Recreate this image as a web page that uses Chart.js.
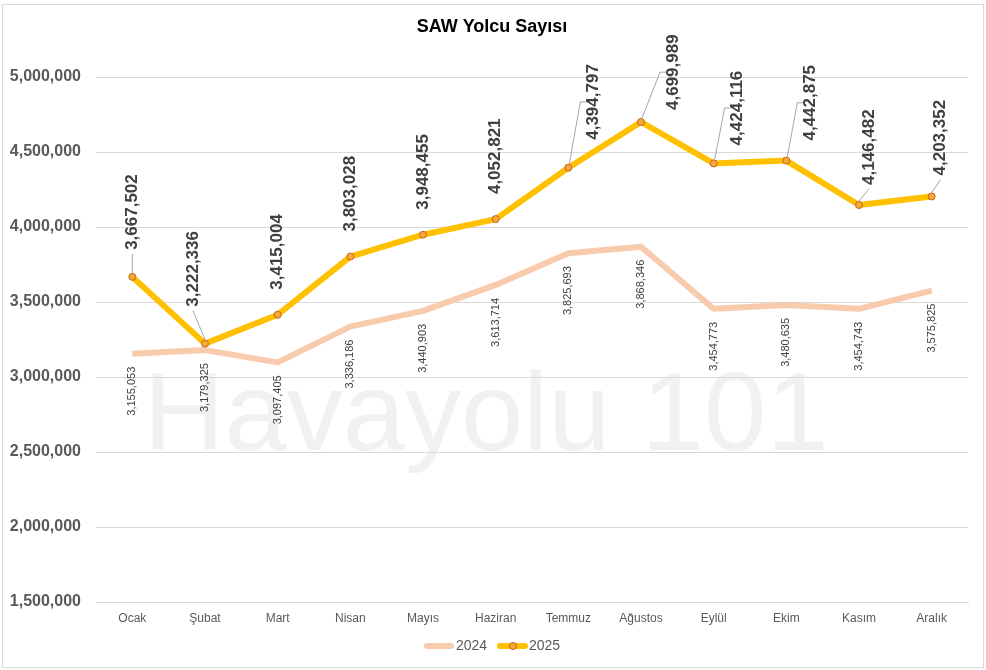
<!DOCTYPE html>
<html>
<head>
<meta charset="utf-8">
<title>SAW Yolcu Sayısı</title>
<script src="https://cdn.jsdelivr.net/npm/chart.js@4.4.1/dist/chart.umd.min.js"></script>
<style>
  html, body { margin: 0; padding: 0; background: #fff; }
  #wrap { width: 986px; height: 670px; }
</style>
</head>
<body>
<div id="wrap"><canvas id="sawChart" width="986" height="670"></canvas></div>
<script>
const FONT = 'Arial, "Liberation Sans", sans-serif';

const months = ['Ocak', 'Şubat', 'Mart', 'Nisan', 'Mayıs', 'Haziran', 'Temmuz', 'Ağustos', 'Eylül', 'Ekim', 'Kasım', 'Aralık'];
const pax2024 = [3155053, 3179325, 3097405, 3336186, 3440903, 3613714, 3825693, 3868346, 3454773, 3480635, 3454743, 3575825];
const pax2025 = [3667502, 3222336, 3415004, 3803028, 3948455, 4052821, 4394797, 4699989, 4424116, 4442875, 4146482, 4203352];
const yMin = 1500000;
const yMax = 5000000;
const yStep = 500000;

// label nudges for the 2025 series (moved by hand in the original)
const shiftX2025 = [0, -12, 0, 0, 0, 0, 25, 32, 24, 24, 10, 9];
const gap2025 = [27, 37, 25, 25, 25, 25, 28, 12, 18, 20, 20, 21];

const fmt = v => v.toLocaleString('en-US');

const decor = {
    id: 'decor',
    beforeDraw(chart) {
        const ctx = chart.ctx;
        ctx.save();
        ctx.fillStyle = '#fff';
        ctx.fillRect(0, 0, chart.width, chart.height);
        // watermark
        ctx.font = '112px ' + FONT;
        ctx.fillStyle = '#f1f1f1';
        ctx.textAlign = 'center';
        ctx.textBaseline = 'alphabetic';
        ctx.fillText('Havayolu 101', 486, 450);
        ctx.restore();
    },
    afterDatasetsDraw(chart) {
        const ctx = chart.ctx;
        const m24 = chart.getDatasetMeta(0).data;
        const m25 = chart.getDatasetMeta(1).data;
        ctx.save();

        // 2024 labels, below the points
        ctx.font = '11px ' + FONT;
        ctx.fillStyle = '#404040';
        ctx.textAlign = 'right';
        ctx.textBaseline = 'middle';
        m24.forEach((p, i) => {
            ctx.save();
            ctx.translate(p.x, p.y + 13);
            ctx.rotate(-Math.PI / 2);
            ctx.fillText(fmt(pax2024[i]), 0, 0);
            ctx.restore();
        });

        // 2025 labels, above the points, with leader lines
        ctx.font = 'bold 17px ' + FONT;
        m25.forEach((p, i) => {
            const lx = p.x + shiftX2025[i];
            const by = p.y - gap2025[i];
            const txt = fmt(pax2025[i]);
            const len = ctx.measureText(txt).width;

            ctx.strokeStyle = '#a6a6a6';
            ctx.lineWidth = 1;
            ctx.beginPath();
            if (Math.abs(shiftX2025[i]) >= 20) {
                const midY = by - len / 2;
                const left = lx - 13;
                ctx.moveTo(left + 6, midY);
                ctx.lineTo(left, midY);
                ctx.lineTo(p.x + 1, p.y - 4);
            } else if (shiftX2025[i] !== 0 || gap2025[i] >= 27) {
                ctx.moveTo(lx, by + 4);
                ctx.lineTo(p.x, p.y - 4);
            }
            ctx.stroke();

            ctx.save();
            ctx.translate(lx, by);
            ctx.rotate(-Math.PI / 2);
            ctx.fillStyle = '#404040';
            ctx.textAlign = 'left';
            ctx.textBaseline = 'middle';
            ctx.fillText(txt, 0, 0);
            ctx.restore();
        });
        ctx.restore();
    },
    afterDraw(chart) {
        const ctx = chart.ctx;
        ctx.save();
        // title
        ctx.font = 'bold 18px ' + FONT;
        ctx.fillStyle = '#000';
        ctx.textAlign = 'center';
        ctx.textBaseline = 'alphabetic';
        ctx.fillText('SAW Yolcu Sayısı', 492, 32);

        // legend
        const ly = 646;
        ctx.lineCap = 'round';
        ctx.lineWidth = 6;
        ctx.strokeStyle = '#f8cbad';
        ctx.beginPath(); ctx.moveTo(427, ly); ctx.lineTo(451, ly); ctx.stroke();
        ctx.strokeStyle = '#ffc000';
        ctx.beginPath(); ctx.moveTo(500, ly); ctx.lineTo(525, ly); ctx.stroke();
        ctx.lineWidth = 1;
        ctx.fillStyle = '#f4a93a';
        ctx.strokeStyle = '#c8651b';
        ctx.beginPath(); ctx.arc(513, ly, 3.5, 0, Math.PI * 2); ctx.fill(); ctx.stroke();
        ctx.font = '14px ' + FONT;
        ctx.fillStyle = '#595959';
        ctx.textAlign = 'left';
        ctx.textBaseline = 'middle';
        ctx.fillText('2024', 456, ly);
        ctx.fillText('2025', 529, ly);

        // outer frame
        ctx.strokeStyle = '#d9d9d9';
        ctx.lineWidth = 1;
        ctx.strokeRect(2.5, 4.5, 981, 663);
        ctx.restore();
    }
};

const ctx = document.getElementById('sawChart').getContext('2d');
const chart = new Chart(ctx, {
    type: 'line',
    data: {
        labels: months,
        datasets: [{
            label: '2024', data: pax2024,
            borderColor: '#f8cbad', borderWidth: 6,
            borderJoinStyle: 'round', tension: 0,
            pointRadius: 0, pointHoverRadius: 0,
            order: 2
        }, {
            label: '2025', data: pax2025,
            borderColor: '#ffc000', borderWidth: 6,
            borderJoinStyle: 'round', tension: 0,
            pointRadius: 3.5, pointBorderWidth: 1,
            pointBackgroundColor: '#f4a93a', pointBorderColor: '#c8651b',
            order: 1
        }]
    },
    options: {
        responsive: false,
        animation: false,
        layout: { padding: { left: 0, right: 18, top: 77, bottom: 0 } },
        plugins: {
            legend: { display: false },
            title: { display: false },
            tooltip: { enabled: false }
        },
        scales: {
            x: {
                offset: true,
                grid: { display: false, drawTicks: false },
                border: { display: true, color: '#d9d9d9' },
                ticks: { color: '#595959', font: { family: FONT, size: 12 }, padding: 9, maxRotation: 0 },
                afterFit: s => { s.height = 68; }
            },
            y: {
                min: yMin, max: yMax,
                grid: { color: '#d9d9d9', drawTicks: false },
                border: { display: false },
                ticks: {
                    stepSize: yStep,
                    color: '#595959',
                    font: { family: FONT, size: 16, weight: 'bold' },
                    padding: 15,
                    callback: v => fmt(v)
                },
                afterFit: s => { s.width = 96; }
            }
        }
    },
    plugins: [decor]
});
</script>
</body>
</html>
